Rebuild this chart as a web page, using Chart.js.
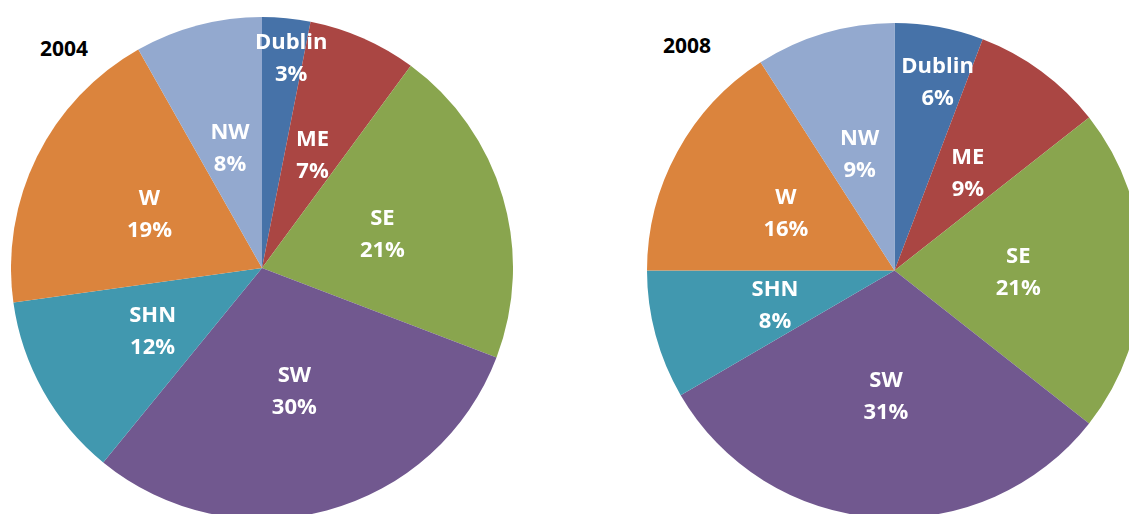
<!DOCTYPE html>
<html>
<head>
<meta charset="utf-8">
<script src="https://cdn.jsdelivr.net/npm/chart.js@4"></script>
<style>
    html, body { margin: 0; padding: 0; background: #fff; overflow: hidden; width: 1129px; height: 514px; }
    .pie { position: absolute; }
    .year { position: absolute; font: bold 21px 'Open Sans', sans-serif; color: #000; transform: translate(-50%, -50%); }
</style>
</head>
<body>
<div class="year" style="left:64px; top:48px;">2004</div>
<div class="year" style="left:687px; top:45px;">2008</div>
<div class="pie" style="left:11px; top:17px; width:502px; height:502px;"><canvas id="chart-2004"></canvas></div>
<div class="pie" style="left:647px; top:23px; width:495px; height:495px;"><canvas id="chart-2008"></canvas></div>
<script>
// Regions, clockwise from 12 o'clock
const regions = ['Dublin', 'ME', 'SE', 'SW', 'SHN', 'W', 'NW'];

// Shares (%)
const share2004 = [3.1, 7.0, 20.7, 30.1, 11.9, 19.0, 8.2];
const share2008 = [5.8, 8.6, 21.2, 31.0, 8.4, 15.9, 9.1];

const sliceColors = ['#4672A8', '#AA4643', '#89A54E', '#71588F', '#4198AF', '#DB843D', '#93A9CF'];

// Draw "Region / NN%" labels inside each slice
const sliceLabels = {
    id: 'sliceLabels',
    afterDatasetsDraw(chart, args, opts) {
        const ctx = chart.ctx;
        const meta = chart.getDatasetMeta(0);
        const values = chart.data.datasets[0].data;
        ctx.save();
        ctx.fillStyle = '#fff';
        ctx.font = 'bold 22px "Open Sans", sans-serif';
        ctx.textAlign = 'center';
        ctx.textBaseline = 'middle';
        meta.data.forEach((arc, i) => {
            const p = arc.getProps(['x', 'y', 'startAngle', 'endAngle', 'outerRadius'], true);
            let mid = (p.startAngle + p.endAngle) / 2;
            let frac = 0.5;
            // small slices get their label pushed out toward the rim
            if (values[i] < 7) {
                frac = opts.rim;
                mid += 0.04;
            }
            const cx = p.x + Math.cos(mid) * p.outerRadius * frac;
            const cy = p.y + Math.sin(mid) * p.outerRadius * frac + 2.5;
            ctx.fillText(chart.data.labels[i], cx, cy - 16);
            ctx.fillText(Math.round(values[i]) + '%', cx, cy + 16);
        });
        ctx.restore();
    }
};

function makePie(id, values, rim) {
    return new Chart(document.getElementById(id), {
        type: 'pie',
        data: {
            labels: regions,
            datasets: [{
                data: values,
                backgroundColor: sliceColors,
                borderWidth: 0,
                hoverOffset: 0
            }]
        },
        options: {
            responsive: true,
            maintainAspectRatio: false,
            animation: false,
            layout: { padding: 0 },
            plugins: {
                legend: { display: false },
                tooltip: { enabled: false },
                sliceLabels: { rim: rim }
            }
        },
        plugins: [sliceLabels]
    });
}

makePie('chart-2004', share2004, 0.85);
makePie('chart-2008', share2008, 0.79);
</script>
</body>
</html>
